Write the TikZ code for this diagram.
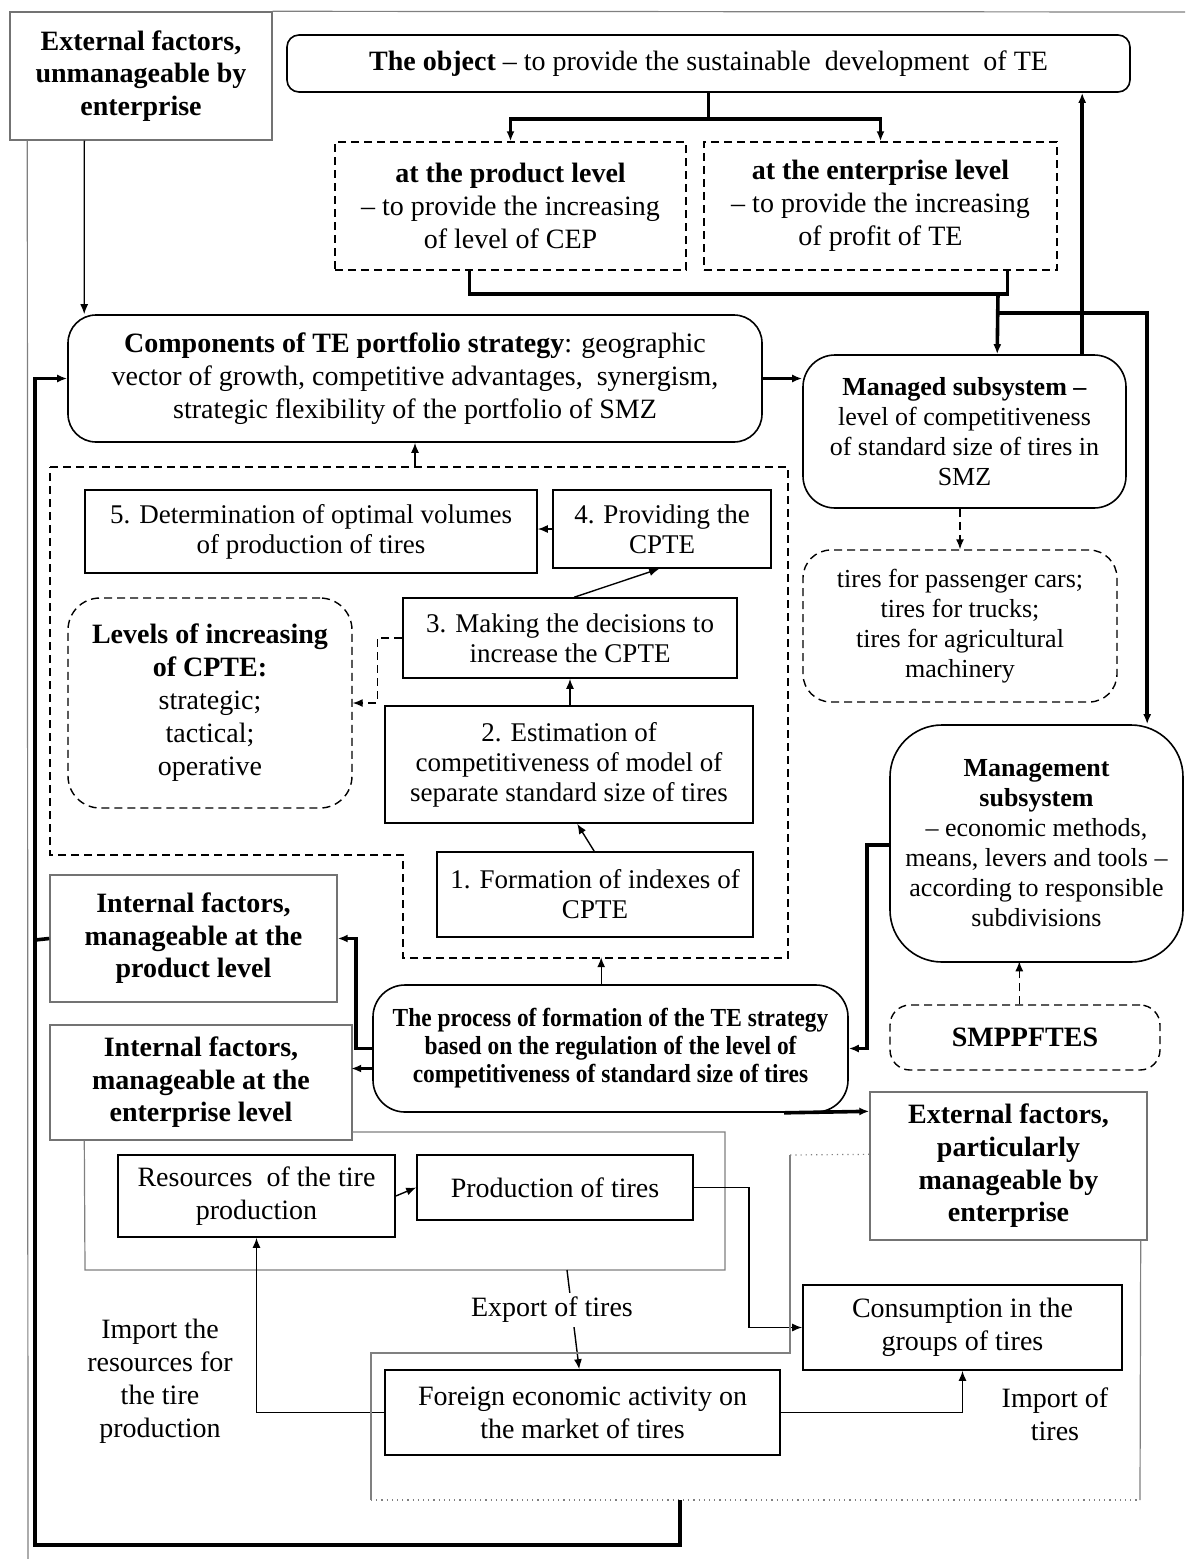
\documentclass[tikz,border=0pt]{standalone}
\usepackage{fontspec}
\setmainfont{Liberation Serif}
\newfontfamily\condserif[FakeStretch=0.9]{Liberation Serif}
\usetikzlibrary{arrows.meta,calc}
\newcommand\fA{\fontsize{14}{16.5}\selectfont}
\newcommand\fB{\bfseries\fontsize{14}{16.3}\selectfont}
\newcommand\fC{\fontsize{13}{15}\selectfont}
\newcommand\fD{\fontsize{13.5}{15}\selectfont}
\newcommand\fE{\condserif\bfseries\fontsize{13}{14}\selectfont}
\newcommand\mybox[7]{%
  \pgfmathsetmacro\mbw{((#4)-(#2))*0.5}%
  \pgfmathsetmacro\mbh{((#5)-(#3))*0.5}%
  \pgfmathsetmacro\mbx{((#2)+(#4))/2}%
  \pgfmathsetmacro\mby{((#3)+(#5))/2}%
  \node[#6, minimum width=\mbw pt, minimum height=\mbh pt, inner sep=0pt, align=center] (#1) at (\mbx,\mby) {#7};}
\tikzset{
  sbox/.style={draw, line width=0.8pt, fill=white, font=\fD},
  rbox/.style={draw, line width=0.8pt, rounded corners=12pt, fill=white, font=\fA},
  gbox/.style={draw=black!55, line width=0.7pt, fill=white, font=\fB},
  dbox/.style={draw, line width=0.7pt, dash pattern=on 4pt off 2.5pt, font=\fA},
  dsh/.style={dash pattern=on 4pt off 2.5pt},
  thk/.style={line width=1.8pt},
  thn/.style={line width=0.7pt},
  gry/.style={draw=black!50, line width=0.6pt},
  arr/.style={-{Latex[length=5pt,width=4pt]}},
  txt/.style={inner sep=0pt, align=center, font=\fA}
}
\begin{document}
\begin{tikzpicture}[x=0.5pt,y=-0.5pt]
\useasboundingbox (0,0) rectangle (1185,1559);
\fill[white] (0,0) rectangle (1185,1559);

% nodes
\mybox{ext1}{10}{12}{272}{140}{gbox}{External factors,\\unmanageable by\\enterprise}
\mybox{obj}{287}{35}{1130}{92}{rbox, rounded corners=6pt}{\textbf{The object} -- to provide the sustainable\ \ development\ \ of TE}
\mybox{prod}{335}{142}{686}{270}{dbox}{\textbf{at the product level}\\-- to provide the increasing\\of level of CEP}
\mybox{ent}{704}{142}{1057}{270}{dbox}{\textbf{at the enterprise level}\\-- to provide the increasing\\of profit of TE}
\mybox{comp}{68}{315}{762}{442}{rbox, rounded corners=14pt}{\textbf{Components of TE portfolio strategy}: geographic\\vector of growth, competitive advantages,\ \ synergism,\\strategic flexibility of the portfolio of SMZ}
\mybox{man}{803}{355}{1126}{508}{rbox, rounded corners=16pt, font=\fC}{\textbf{Managed subsystem --}\\level of competitiveness\\of standard size of tires in\\SMZ}
\mybox{tires}{803}{550}{1117}{702}{dbox, rounded corners=14pt, font=\fC}{tires for passenger cars;\\tires for trucks;\\tires for agricultural\\machinery}
\mybox{b5}{85}{490}{537}{573}{sbox}{5. Determination of optimal volumes\\of production of tires}
\mybox{b4}{553}{490}{771}{568}{sbox}{4. Providing the\\CPTE}
\mybox{b3}{403}{598}{737}{678}{sbox}{3. Making the decisions to\\increase the CPTE}
\mybox{lev}{68}{598}{352}{808}{dbox, rounded corners=16pt}{\textbf{Levels of increasing}\\\textbf{of CPTE:}\\strategic;\\tactical;\\operative}
\mybox{b2}{385}{706}{753}{823}{sbox}{2. Estimation of\\competitiveness of model of\\separate standard size of tires}
\mybox{b1}{437}{852}{753}{937}{sbox}{1. Formation of indexes of\\CPTE}
\mybox{ip}{50}{875}{337}{1002}{gbox}{Internal factors,\\manageable at the\\product level}
\mybox{ie}{50}{1025}{352}{1140}{gbox}{Internal factors,\\manageable at the\\enterprise level}
\mybox{proc}{373}{985}{848}{1112}{rbox, rounded corners=16pt, font=\fE}{The process of formation of the TE strategy\\based on the regulation of the level of\\competitiveness of standard size of tires}
\mybox{mgmt}{890}{725}{1183}{962}{rbox, rounded corners=26pt, font=\fC}{\textbf{Management}\\\textbf{subsystem}\\-- economic methods,\\means, levers and tools --\\according to responsible\\subdivisions}
\mybox{smp}{890}{1005}{1160}{1070}{dbox, rounded corners=10pt, font=\fB}{SMPPFTES}
\mybox{ext2}{870}{1092}{1147}{1240}{gbox}{External factors,\\particularly\\manageable by\\enterprise}
\mybox{res}{118}{1155}{395}{1237}{sbox, font=\fA}{Resources\ \ of the tire\\production}
\mybox{pro}{417}{1155}{693}{1220}{sbox, font=\fA}{Production of tires}
\mybox{con}{803}{1285}{1122}{1370}{sbox, font=\fA}{Consumption in the\\groups of tires}
\mybox{for}{385}{1370}{780}{1455}{sbox, font=\fA}{Foreign economic activity on\\the market of tires}
\node[txt] (imp1) at (160,1381) {Import the\\resources for\\the tire\\production};
\node[txt] (imp2) at (1055,1414) {Import of\\tires};

% frame lines
\draw[gry] (ext1.north east) -- (1185,12);
\draw[gry] ($(ext1.south west)+(18,0)$) -- (28,1559);

% top connectors
\draw[thk] (obj.south) -- ++(0,26) coordinate (j1);
\draw[thk,arr] (j1) -| (prod.north);
\draw[thk,arr] (j1) -| (ent.north);
\draw[thk] ($(prod.south west)+(135,0)$) -- ++(0,23) -- ($(ent.south west)+(304,23)$) -- ($(ent.south west)+(304,0)$);
\coordinate (j2) at (998,293);
\draw[thk,arr] (j2) -- ($(man.north west)+(195,0)$);
\draw[thk,arr] ($(j2)+(0,20)$) -| ($(mgmt.north west)+(258,0)$);
\draw[thk,arr] ($(man.north west)+(280,0)$) -- ($(obj.south west)+(796,0)$);
\draw[thk,arr] (comp.east) -- (comp.east -| man.west);
\draw[thn,arr] ($(ext1.south west)+(75,0)$) -- ($(comp.north west)+(17,0)$);
\draw[thn,dsh,arr] (tires.north |- man.south) -- (tires.north);

% process group
\draw[thn,dsh] (50,467) -- (788,467) -- (788,958) -- (403,958) -- (403,855) -- (50,855) -- cycle;
\coordinate (gtop) at (415,467);
\draw[thn,arr] (gtop) -- (comp.south);
\draw[thn,arr] (b4.west) -- (b4.west -| b5.east);
\draw[thn,arr] ($(b3.north west)+(172,0)$) -- ($(b4.south west)+(107,0)$);
\draw[thn,arr] (b3.south |- b2.north) -- (b3.south);
\draw[thn,arr] ($(b1.north west)+(158,0)$) -- ($(b2.south west)+(193,0)$);
\draw[thn,dsh,arr] (b3.west) -- ++(-25,0) |- (lev.east);

% process connectors
\draw[thn,arr] ($(proc.north west)+(229,0)$) -- ++(0,-27);
\draw[thk,arr] (proc.west) -- ++(-16,0) |- (ip.east);
\draw[thk,arr] ($(proc.west)+(0,20)$) -- ++(-21,0);
\draw[thk,arr] ($(mgmt.west)+(0,1.5)$) -- ++(-22,0) |- (proc.east);
\draw[thn,dsh,arr] ($(smp.north west)+(130,0)$) -- ++(0,-43);
\draw[thk,arr] ($(proc.south west)+(412,0)$) -- ($(ext2.north west)+(0,20)$);

% lower part
\draw[gry] ($(ie.south west)+(35,0)$) -- (85,1270) -- (725,1270) -- (725,1132) -- (352,1132);
\draw[thn,arr] (res.east) -- (pro.west);
\draw[thn,arr] (pro.east) -- ++(55,0) |- (con.west);
\draw[thn,arr] (567,1270) -- ($(for.north west)+(195,0)$);
\node[txt, fill=white, inner sep=2pt] (exp) at (552,1310) {Export of tires};
\draw[thn,arr] (for.west) -| (res.south);
\draw[thn,arr] (for.east) -| (con.south);
\coordinate (dl) at ($(ext2.north west)+(0,63)$);
\draw[gry,dotted] (dl) -- (790,1155);
\draw[gry] (790,1155) -- (790,1353) -- (371,1353) -- (371,1500);
\draw[gry,dotted] (371,1500) -- (1140,1500);
\draw[gry] (1140,1500) -- ($(ext2.south east)+(-7,0)$);

% bottom loop
\coordinate (dotb) at (680,1500);
\draw[thk,arr] (dotb) -- (680,1545) -- (35,1545) |- (comp.west);
\draw[thk] (35,940) -- (ip.west);
\end{tikzpicture}
\end{document}
